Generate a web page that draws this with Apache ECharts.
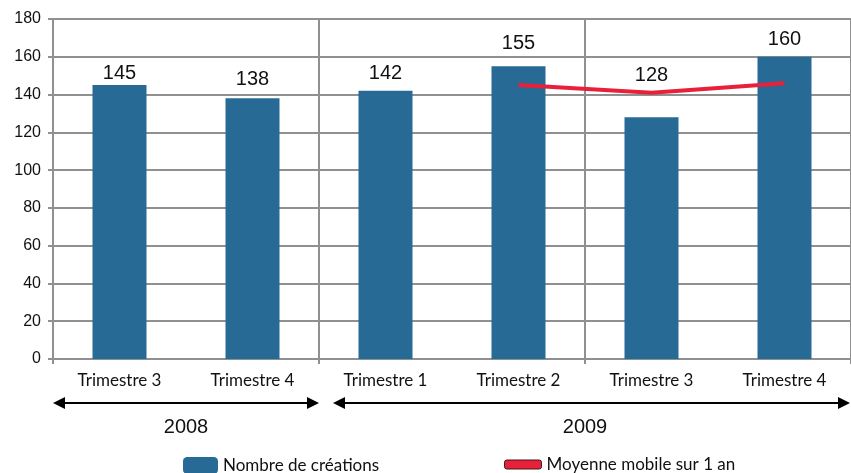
<!DOCTYPE html>
<html>
<head>
<meta charset="utf-8">
<script src="https://cdn.jsdelivr.net/npm/echarts@6/dist/echarts.min.js"></script>
<style>
  html, body { margin: 0; padding: 0; background: #fff; }
  #chart { width: 851px; height: 473px; }
</style>
</head>
<body>
<div id="chart"></div>
<script>
// données
const quarters = ['Trimestre 3', 'Trimestre 4', 'Trimestre 1', 'Trimestre 2', 'Trimestre 3', 'Trimestre 4'];
const creations = [145, 138, 142, 155, 128, 160];
const movingAvg = [null, null, null, 145, 141, 146];
const years = ['2008', '2009'];
const quartersPerYear = [2, 4];
const yTicks = [0, 20, 40, 60, 80, 100, 120, 140, 160, 180];

// décalage vertical des étiquettes (px), comme dans l'original
const labelShift = [3, -4, -2, -8, -27, -2];

const chart = echarts.init(document.getElementById('chart'));

const gridColor = '#909090';
const textFont = 'Lato, "Open Sans", sans-serif';
const numFont = '"Liberation Sans", Arial, sans-serif';

const option = {
  animation: false,
  grid: { left: 53, right: -5, top: 19, bottom: 114 },
  legend: [
    {
      data: ['Nombre de créations'],
      left: 183, top: 457, padding: 0,
      itemWidth: 35, itemHeight: 17,
      textStyle: { fontFamily: textFont, fontSize: 17, color: '#111' }
    },
    {
      data: [{ name: 'Moyenne mobile sur 1 an', itemStyle: { borderColor: '#3a1a1a', borderWidth: 1 } }],
      left: 504, top: 456, padding: 0,
      itemWidth: 37, itemHeight: 9,
      icon: 'roundRect',
      textStyle: { fontFamily: textFont, fontSize: 17, color: '#111' }
    }
  ],
  xAxis: {
    type: 'category',
    data: quarters,
    axisLine: { lineStyle: { color: gridColor, width: 2 } },
    axisTick: { show: true, interval: 1, length: 5, lineStyle: { color: gridColor, width: 2 } },
    axisLabel: { margin: 13, fontFamily: textFont, fontSize: 17, color: '#111' },
    splitLine: {
      show: true,
      interval: function (i) { return i === 2 || i === 4; },
      lineStyle: { color: gridColor, width: 2 }
    }
  },
  yAxis: {
    type: 'value',
    min: yTicks[0],
    max: yTicks[yTicks.length - 1],
    interval: 20,
    axisLine: { show: true, lineStyle: { color: gridColor, width: 2 } },
    axisTick: { show: true, length: 5, lineStyle: { color: gridColor, width: 2 } },
    axisLabel: { margin: 12, fontFamily: numFont, fontSize: 16, color: '#111' },
    splitLine: { lineStyle: { color: gridColor, width: 2 } }
  },
  series: [
    {
      name: 'Nombre de créations',
      type: 'bar',
      barWidth: 54,
      itemStyle: { color: '#276a96' },
      data: creations.map((v, i) => ({
        value: v,
        label: { offset: [0, labelShift[i]] }
      })),
      label: {
        show: true,
        position: 'top',
        distance: 5,
        fontFamily: numFont,
        fontSize: 20,
        color: '#111'
      }
    },
    {
      name: 'Moyenne mobile sur 1 an',
      type: 'line',
      data: movingAvg,
      symbol: 'none',
      itemStyle: { color: '#e8203a' },
      lineStyle: { color: '#e8203a', width: 4 },
      z: 5
    }
  ]
};

chart.setOption(option);

// flèches des années sous l'axe
function drawYears() {
  const c0 = chart.convertToPixel({ xAxisIndex: 0 }, 0);
  const c1 = chart.convertToPixel({ xAxisIndex: 0 }, 1);
  const band = c1 - c0;
  const arrowY = 403;
  const elems = [];
  let start = 0;
  years.forEach((y, k) => {
    const x0 = c0 - band / 2 + start * band;
    const x1 = x0 + quartersPerYear[k] * band;
    const a0 = k === 0 ? x0 : x0 + 14;
    const a1 = Math.min(x1, 850);
    elems.push({
      type: 'line',
      shape: { x1: a0 + 8, y1: arrowY, x2: a1 - 8, y2: arrowY },
      style: { stroke: '#000', lineWidth: 2 }
    });
    elems.push({
      type: 'polygon',
      shape: { points: [[a0, arrowY], [a0 + 12, arrowY - 6], [a0 + 12, arrowY + 6]] },
      style: { fill: '#000' }
    });
    elems.push({
      type: 'polygon',
      shape: { points: [[a1, arrowY], [a1 - 12, arrowY - 6], [a1 - 12, arrowY + 6]] },
      style: { fill: '#000' }
    });
    elems.push({
      type: 'text',
      x: (x0 + x1) / 2,
      y: 427,
      style: {
        text: y,
        align: 'center',
        verticalAlign: 'middle',
        fontFamily: numFont,
        fontSize: 20,
        fill: '#111'
      }
    });
    start += quartersPerYear[k];
  });
  chart.setOption({ graphic: elems });
}
drawYears();
</script>
</body>
</html>
